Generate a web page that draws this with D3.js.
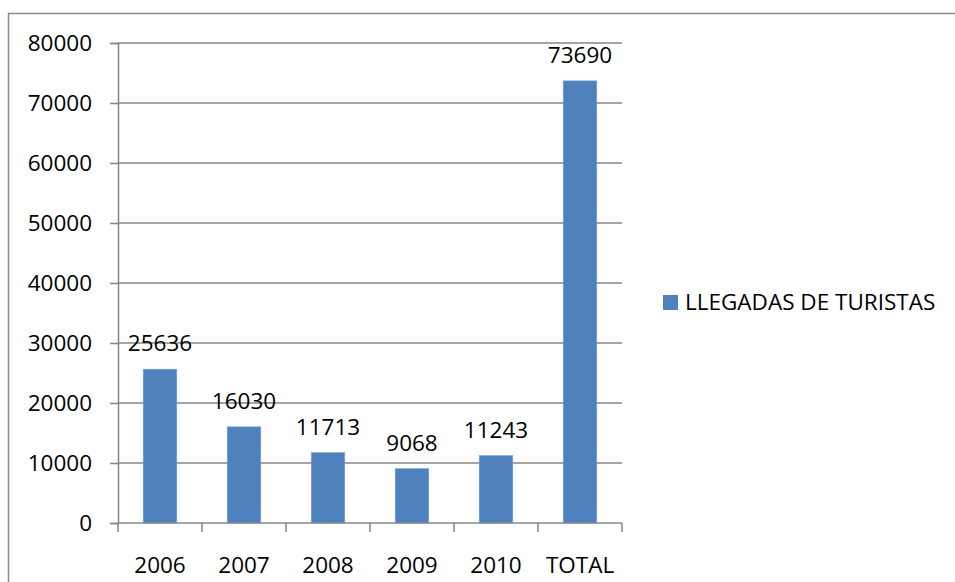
<!DOCTYPE html>
<html>
<head>
<meta charset="utf-8">
<script src="https://cdn.jsdelivr.net/npm/d3@7"></script>
<style>
  html, body { margin: 0; padding: 0; background: #fff; }
  svg { display: block; font-family: "Open Sans", "Liberation Sans", sans-serif; }
</style>
</head>
<body>
<div id="chart"></div>
<script>
// datos del gráfico
const categories = ["2006", "2007", "2008", "2009", "2010", "TOTAL"];
const values = [25636, 16030, 11713, 9068, 11243, 73690];
const yTicks = [0, 10000, 20000, 30000, 40000, 50000, 60000, 70000, 80000];
const seriesName = "LLEGADAS DE TURISTAS";

const W = 955, H = 582;
const plot = { left: 118, right: 622, top: 43, bottom: 523 };
const gridColor = "#868686";
const barColor = "#4F81BD";

const svg = d3.select("#chart")
    .append("svg")
    .attr("width", W)
    .attr("height", H);

// marco exterior
svg.append("rect")
    .attr("x", 8.5).attr("y", 13.5)
    .attr("width", 980).attr("height", 620)
    .attr("fill", "none")
    .attr("stroke", "#8c8c8c")
    .attr("stroke-width", 1.5);

const x = d3.scaleBand()
    .domain(categories)
    .range([plot.left, plot.right])
    .paddingInner(0.6)
    .paddingOuter(0.3);

const xOuter = d3.scaleBand()
    .domain(categories)
    .range([plot.left, plot.right]);

const y = d3.scaleLinear()
    .domain([0, 80000])
    .range([plot.bottom, plot.top]);

// líneas de cuadrícula + eje y
const yAxis = svg.append("g")
    .attr("transform", `translate(${plot.left},0)`)
    .call(d3.axisLeft(y).tickValues(yTicks).tickSize(8).tickPadding(18).tickFormat(d3.format("d")));
yAxis.select(".domain").attr("stroke", gridColor).attr("stroke-width", 1.5);
yAxis.selectAll(".tick line").attr("stroke", gridColor).attr("stroke-width", 1.5);
yAxis.selectAll(".tick text")
    .attr("fill", "#000")
    .style("font-size", "22.5px")
    .style("font-family", "'Open Sans', sans-serif");

svg.append("g")
    .selectAll("line")
    .data(yTicks.filter(d => d > 0))
    .join("line")
    .attr("x1", plot.left).attr("x2", plot.right)
    .attr("y1", d => y(d)).attr("y2", d => y(d))
    .attr("stroke", gridColor)
    .attr("stroke-width", 1.5);

// barras
svg.append("g")
    .selectAll("rect")
    .data(values)
    .join("rect")
    .attr("x", (d, i) => x(categories[i]))
    .attr("y", d => y(d))
    .attr("width", x.bandwidth())
    .attr("height", d => y(0) - y(d))
    .attr("fill", barColor)
    .attr("stroke", "#7ea6d6")
    .attr("stroke-width", 0.6);

// eje x
const xAxis = svg.append("g")
    .attr("transform", `translate(0,${plot.bottom})`)
    .call(d3.axisBottom(xOuter).tickSize(0).tickPadding(34));
xAxis.select(".domain").remove();
xAxis.selectAll(".tick text")
    .attr("fill", "#000")
    .style("font-size", "22.5px")
    .style("font-family", "'Open Sans', sans-serif");

svg.append("line")
    .attr("x1", plot.left).attr("x2", plot.right)
    .attr("y1", plot.bottom).attr("y2", plot.bottom)
    .attr("stroke", gridColor).attr("stroke-width", 1.5);

svg.append("g")
    .selectAll("line")
    .data(categories.map(c => xOuter(c)).concat([plot.right]))
    .join("line")
    .attr("x1", d => d).attr("x2", d => d)
    .attr("y1", plot.bottom).attr("y2", plot.bottom + 9)
    .attr("stroke", gridColor).attr("stroke-width", 1.5);

// etiquetas de datos
svg.append("g")
    .selectAll("text")
    .data(values)
    .join("text")
    .attr("x", (d, i) => x(categories[i]) + x.bandwidth() / 2)
    .attr("y", d => y(d) - 18)
    .attr("text-anchor", "middle")
    .style("font-size", "22.5px")
    .text(d => d);

// leyenda
const legend = svg.append("g").attr("transform", "translate(663,295)");
legend.append("rect")
    .attr("width", 15).attr("height", 15)
    .attr("fill", barColor);
legend.append("text")
    .attr("x", 22).attr("y", 15)
    .style("font-size", "22.5px")
    .text(seriesName);
</script>
</body>
</html>
